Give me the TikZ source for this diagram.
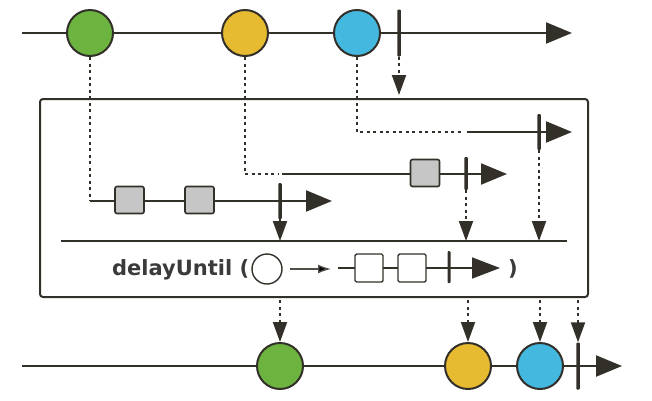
\documentclass[tikz,border=0pt]{standalone}
\usepackage{fontspec}
\setmainfont{DejaVu Sans}
\usetikzlibrary{arrows.meta}
\definecolor{dk}{HTML}{333029}
\definecolor{cg}{HTML}{6CB33F}
\definecolor{cy}{HTML}{E6BA31}
\definecolor{cb}{HTML}{44B8DE}
\definecolor{sq}{HTML}{C6C6C6}
\definecolor{txt}{HTML}{3A3A3A}
\begin{document}
\begin{tikzpicture}[x=1pt,y=-1pt,
  mainline/.style={draw=dk, line width=2.2pt},
  flow/.style={draw=dk, line width=2.2pt, -{Triangle[length=26pt,width=21pt]}},
  dots/.style={draw=dk, line width=2pt, dash pattern=on 3pt off 3.5pt},
  darr/.style={dots, -{Triangle[length=20pt,width=14pt]}},
  ball/.style={circle, draw=dk, line width=2pt, minimum size=46pt, inner sep=0pt},
  tickmark/.style={rectangle, fill=dk, draw=none, minimum width=3.5pt, inner sep=0pt, rounded corners=1pt},
  gsq/.style={rectangle, fill=sq, draw=dk, line width=1.6pt, rounded corners=2pt, minimum width=29pt, minimum height=27pt, inner sep=0pt},
  wsq/.style={rectangle, fill=white, draw=dk, line width=1.4pt, rounded corners=1.5pt, minimum width=28pt, minimum height=28pt, inner sep=0pt},
  boxstyle/.style={rectangle, draw=dk, line width=2pt, rounded corners=3pt, minimum width=548pt, minimum height=198pt, inner sep=0pt},
]
\useasboundingbox (0,0) rectangle (652,400);

% ---------- top source line ----------
\coordinate (ts) at (22,33);
\coordinate (te) at (572,33);
\draw[flow] (ts) -- (te);
\node[ball, fill=cg] (ig) at (90,33) {};
\node[ball, fill=cy] (iy) at (245,33) {};
\node[ball, fill=cb] (ib) at (357,33) {};
\node[tickmark, minimum height=47pt] (itk) at (399,33) {};

% ---------- operator box ----------
\node[boxstyle] (bx) at (314,198) {};
\draw[darr, shorten >=3pt] (itk.south) -- (itk.south |- bx.north);

% inner line A (blue)
\coordinate (a1) at (462,132);
\coordinate (a2) at (467,132);
\coordinate (a3) at (572,132);
\draw[dots] (ib.south) |- (a1);
\draw[flow] (a2) -- (a3);
\node[tickmark, minimum height=36pt] (tA) at (539,132) {};

% inner line B (yellow)
\coordinate (b1) at (278,174);
\coordinate (b2) at (282,174);
\coordinate (b3) at (507,174);
\draw[dots] (iy.south) |- (b1);
\draw[flow] (b2) -- (b3);
\node[gsq] (sB) at (425,173) {};
\node[tickmark, minimum height=33pt] (tB) at (466,173.5) {};

% inner line C (green)
\coordinate (c0) at (90,201);
\coordinate (c1) at (332,201);
\draw[dots] (ig.south) -- (c0);
\draw[flow] (c0) -- (c1);
\node[gsq] (sC1) at (129.5,200) {};
\node[gsq] (sC2) at (199.5,200) {};
\node[tickmark, minimum height=36pt] (tC) at (280,201) {};

% separator line
\coordinate (h0) at (61,241);
\coordinate (h1) at (567,241);
\draw[mainline] (h0) -- (h1);
\draw[darr] (tC.south) -- (tC.south |- h0);
\draw[darr] (tB.south) -- (tB.south |- h0);
\draw[darr] (tA.south) -- (tA.south |- h0);

% operator label
\node[anchor=base west, inner sep=0pt, text=txt, font=\fontsize{21}{21}\selectfont\bfseries] (lbl) at (112,275) {delayUntil (};
\node[circle, draw=dk, line width=1.4pt, minimum size=30pt, inner sep=0pt] (mc) at (267,269) {};
\coordinate (m0) at (290,269);
\coordinate (m1) at (331,269);
\draw[draw=dk!85, line width=1.3pt, -{Latex[length=13pt,width=9pt,fill=black]}] (m0) -- (m1);
\coordinate (n0) at (338,268);
\coordinate (n1) at (500,268);
\draw[draw=dk, line width=1.6pt, -{Triangle[length=28pt,width=21pt]}] (n0) -- (n1);
\node[wsq] (ws1) at (369,268) {};
\node[wsq] (ws2) at (412,268) {};
\node[tickmark, minimum height=32pt, minimum width=3pt] (wtk) at (449,267) {};
\node[anchor=base, inner sep=0pt, text=txt, font=\fontsize{21}{21}\selectfont\bfseries] (rp) at (513,275) {)};

% ---------- bottom result line ----------
\coordinate (bs) at (22,366);
\coordinate (be) at (622,366);
\draw[flow] (bs) -- (be);
\node[ball, fill=cg] (og) at (280,366) {};
\node[ball, fill=cy] (oy) at (468,366) {};
\node[ball, fill=cb] (ob) at (540,366) {};
\node[tickmark, minimum height=47pt] (otk) at (578,366) {};

\draw[darr, shorten <=2pt] (og.north |- bx.south) -- (og.north);
\draw[darr, shorten <=2pt] (oy.north |- bx.south) -- (oy.north);
\draw[darr, shorten <=2pt] (ob.north |- bx.south) -- (ob.north);
\draw[darr, shorten <=2pt] (otk.north |- bx.south) -- (otk.north);
\end{tikzpicture}
\end{document}
